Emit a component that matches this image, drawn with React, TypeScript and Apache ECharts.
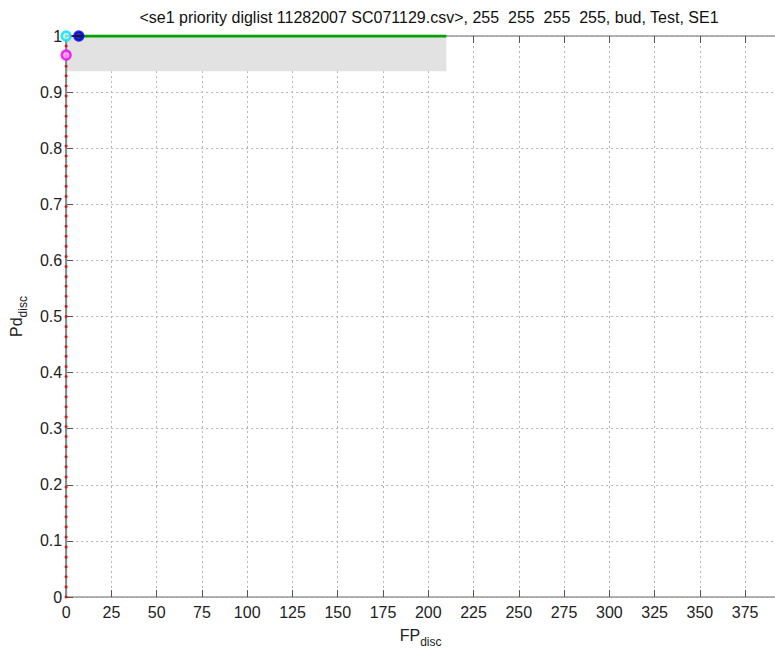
import React, { useEffect, useRef } from "react";
import * as echarts from "echarts";

// Detection points stacked along FP = 0 (Pd values)
const stemY = [
  0, 0.018, 0.036, 0.054, 0.071, 0.089, 0.107, 0.125, 0.143, 0.161, 0.179, 0.196,
  0.214, 0.232, 0.25, 0.268, 0.286, 0.304, 0.321, 0.339, 0.357, 0.375, 0.393, 0.411,
  0.429, 0.446, 0.464, 0.482, 0.5, 0.518, 0.536, 0.554, 0.571, 0.589, 0.607, 0.625,
  0.643, 0.661, 0.679, 0.696, 0.714, 0.732, 0.75, 0.768, 0.786, 0.804, 0.821, 0.839,
  0.857, 0.875, 0.893, 0.911, 0.929, 0.946, 0.964, 0.982, 1,
];

// ROC segments at Pd = 1
const redSegment = [
  [0, 1],
  [7, 1],
];
const greenSegment = [
  [7, 1],
  [210, 1],
];

// Confidence band
const bandX = [0, 210];
const bandY = [0.937, 1];

// Operating point markers
const cyanPoint = [0, 1];
const magentaPoint = [0, 0.966];
const bluePoint = [7, 1];

const xTickStep = 25;
const yTickStep = 0.1;
const xMax = 391.5;

const titleText =
  "<se1 priority diglist 11282007 SC071129.csv>, 255  255  255  255, bud, Test, SE1";

const FONT = "Liberation Sans, Arial, sans-serif";

export default function App() {
  const ref = useRef<HTMLDivElement>(null);

  useEffect(() => {
    if (!ref.current) return;
    const chart = echarts.init(ref.current, undefined, { renderer: "svg" });

    const axisLine = { show: true, lineStyle: { color: "#9a9a9a", width: 1.5 } };
    const axisTick = { show: true, inside: true, length: 7, lineStyle: { color: "#555", width: 1 } };
    const splitLine = { show: true, lineStyle: { color: "#b4b4b4", type: [2, 3] as any, width: 1 } };
    const nameRich = {
      a: { fontFamily: FONT, fontSize: 16, color: "#222", verticalAlign: "bottom" },
      b: { fontFamily: FONT, fontSize: 12, color: "#222", verticalAlign: "bottom", padding: [0, 0, -5, 0] },
    };

    chart.setOption({
      animation: false,
      backgroundColor: "#ffffff",
      title: {
        text: titleText,
        left: 424,
        top: 4,
        textAlign: "center",
        textStyle: { fontFamily: FONT, fontSize: 16, fontWeight: "normal", color: "#111" },
      },
      grid: { left: 66, right: 0, top: 36, bottom: 54 },
      xAxis: [
        {
          type: "value",
          min: 0,
          max: xMax,
          interval: xTickStep,
          axisLine,
          axisTick,
          splitLine,
          axisLabel: {
            fontFamily: FONT,
            fontSize: 16,
            color: "#222",
            margin: 7,
            showMaxLabel: false,
            formatter: (v: number) => (v % xTickStep === 0 ? String(v) : ""),
          },
          name: "{a|FP}{b|disc}",
          nameLocation: "middle",
          nameGap: 30,
          nameTextStyle: { rich: nameRich },
        },
        {
          type: "value",
          position: "top",
          min: 0,
          max: xMax,
          interval: xTickStep,
          axisLine,
          axisTick,
          splitLine: { show: false },
          axisLabel: { show: false },
        },
      ],
      yAxis: [
        {
          type: "value",
          min: 0,
          max: 1,
          interval: yTickStep,
          axisLine,
          axisTick,
          splitLine,
          axisLabel: { fontFamily: FONT, fontSize: 16, color: "#222", margin: 4 },
          name: "{a|Pd}{b|disc}",
          nameLocation: "middle",
          nameGap: 42,
          nameRotate: 90,
          nameTextStyle: { rich: nameRich },
        },
      ],
      series: [
        {
          type: "line",
          data: [],
          silent: true,
          markArea: {
            silent: true,
            itemStyle: { color: "#e2e2e2" },
            data: [[{ xAxis: bandX[0], yAxis: bandY[0] }, { xAxis: bandX[1], yAxis: bandY[1] }]],
          },
        },
        {
          type: "line",
          data: stemY.map((y) => [0, y]),
          lineStyle: { color: "#8c8c8c", width: 2 },
          symbol: "circle",
          symbolSize: 3,
          itemStyle: { color: "#d81818" },
          clip: false,
          z: 3,
        },
        {
          type: "line",
          data: greenSegment,
          symbol: "none",
          lineStyle: { color: "#00a000", width: 3 },
          z: 4,
        },
        {
          type: "line",
          data: redSegment,
          symbol: "none",
          lineStyle: { color: "#8b1010", width: 2 },
          clip: false,
          z: 4,
        },
        {
          type: "scatter",
          clip: false,
          z: 6,
          symbol: "circle",
          symbolSize: 9,
          data: [
            { value: cyanPoint, itemStyle: { color: "#a8ffff", borderColor: "#00e0f0", borderWidth: 2.5 } },
            { value: magentaPoint, itemStyle: { color: "#ff9cff", borderColor: "#ee00ee", borderWidth: 2.5 } },
            { value: bluePoint, itemStyle: { color: "#000070", borderColor: "#0000ee", borderWidth: 2.5 } },
          ],
        },
      ],
    });

    return () => chart.dispose();
  }, []);

  return (
    <div
      ref={ref}
      style={{ position: "fixed", left: 0, top: 0, width: 775, height: 653, background: "#fff" }}
    />
  );
}
